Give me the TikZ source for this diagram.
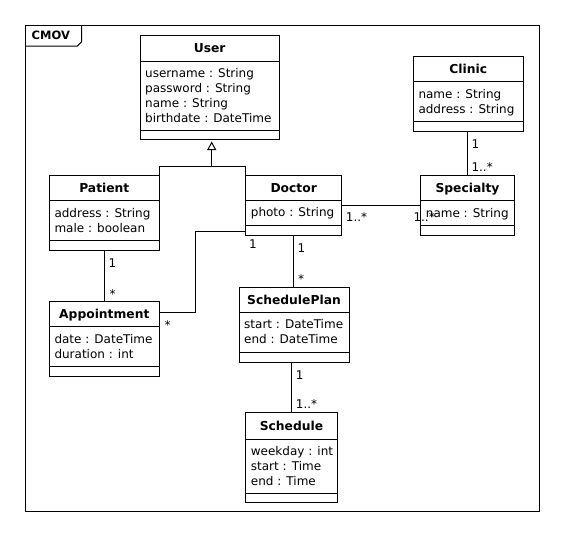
\documentclass[tikz,border=0pt]{standalone}
\usepackage{fontspec}
\setmainfont{DejaVu Sans}
\usetikzlibrary{arrows.meta,calc,fit}

\tikzset{
  classbox/.style={draw, line width=1pt, inner sep=0pt, outer sep=0pt},
  conn/.style={line width=1pt},
  cname/.style={font=\fontsize{12.3}{15}\selectfont\bfseries, inner sep=0pt, anchor=base},
  attr/.style={font=\fontsize{12}{15}\selectfont, inner sep=0pt, anchor=base west},
  mult/.style={font=\fontsize{12}{14}\selectfont, inner sep=0pt, anchor=base west},
  framelabel/.style={font=\fontsize{11.5}{13}\selectfont\bfseries, inner sep=0pt, anchor=base west},
}

% name, x1, ytop, x2, ysep1, ysep2, ybottom, title, attributes
\newcommand\umlclass[9]{%
  \node[classbox, fit={(#2,-#3) (#4,-#7)}] (#1) {};
  \draw[conn] (#2,-#5) -- (#4,-#5);
  \draw[conn] (#2,-#6) -- (#4,-#6);
  \node[cname] (#1-name) at ({(#2+#4)/2},{-(#3+#5)/2-4.6}) {#8};
  \foreach \t [count=\i] in {#9} {\node[attr] (#1-a\i) at ({#2+5},{-#5-16.3-15*(\i-1)}) {\t};}
}

\begin{document}
\begin{tikzpicture}[x=1pt,y=1pt]
\useasboundingbox (0,0) rectangle (569,-541);
\fill[white] (0,0) rectangle (569,-541);

% frame
\node[draw, line width=1pt, inner sep=0pt, outer sep=0pt, fit={(25.5,-25.5) (539.5,-511.5)}] (frame) {};
\draw[conn] (frame.west |- 0,-46) -- (77.3,-46) -- (81.7,-41.6) -- (81.7,-25.5);
\node[framelabel] (cmov) at (31.5,-39) {CMOV};

% classes
\umlclass{User}{140}{35}{279.3}{61}{130}{139.3}{User}{username : String, password : String, name : String, birthdate : DateTime}
\umlclass{Clinic}{413.3}{56.7}{523.3}{81.7}{121.7}{131}{Clinic}{name : String, address : String}
\umlclass{Patient}{49.3}{175}{159.3}{200.7}{240.7}{250}{Patient}{address : String, male : boolean}
\umlclass{Doctor}{245.7}{175.3}{341.7}{200.3}{225.7}{235}{Doctor}{photo : String}
\umlclass{Specialty}{420.7}{175.3}{514.3}{200.7}{225.7}{235}{Specialty}{name : String}
\umlclass{Appointment}{49.3}{301}{159.3}{326.7}{366.7}{376}{Appointment}{date : DateTime, duration : int}
\umlclass{SchedulePlan}{239}{287.7}{349}{312.3}{352.7}{362.3}{SchedulePlan}{start : DateTime, end : DateTime}
\umlclass{Schedule}{245.7}{412.7}{337.3}{439}{493.3}{502.7}{Schedule}{weekday : int, start : Time, end : Time}

% generalization
\coordinate (gen) at (211.7,-166.7);
\draw[conn] (Patient.north east) |- (gen) -| (Doctor.north west);
\draw[conn, -{Triangle[open, width=9pt, length=8.5pt]}, shorten >=2.2pt] (gen) -- (gen |- User.south);

% associations
\draw[conn] (Patient.south) -- (Appointment.north);
\coordinate (da) at (195,-231);
\draw[conn] ([yshift=4pt]Doctor.south west) -- (da) |- ([yshift=26.2pt]Appointment.east);
\draw[conn] (Doctor.east) -- (Doctor.east -| Specialty.west);
\draw[conn] (Doctor.south) -- (Doctor.south |- SchedulePlan.north);
\draw[conn] (Schedule.north |- SchedulePlan.south) -- (Schedule.north);
\draw[conn] (Specialty.north |- Clinic.south) -- (Specialty.north);

% multiplicities
\node[mult] (m1) at (108.3,-267) {1};
\node[mult] (m2) at (109.5,-298.5) {*};
\node[mult] (m3) at (249,-248.3) {1};
\node[mult] (m4) at (164.5,-329.5) {*};
\node[mult] (m5) at (297.3,-252.6) {1};
\node[mult] (m6) at (297.8,-283.5) {*};
\node[mult] (m7) at (295.7,-379.3) {1};
\node[mult] (m8) at (295.7,-408.3) {1..*};
\node[mult] (m9) at (471.3,-148.3) {1};
\node[mult] (m10) at (471.3,-171) {1..*};
\node[mult] (m11) at (345.7,-221) {1..*};
\node[mult] (m12) at (413.3,-221) {1..*};
\end{tikzpicture}
\end{document}
